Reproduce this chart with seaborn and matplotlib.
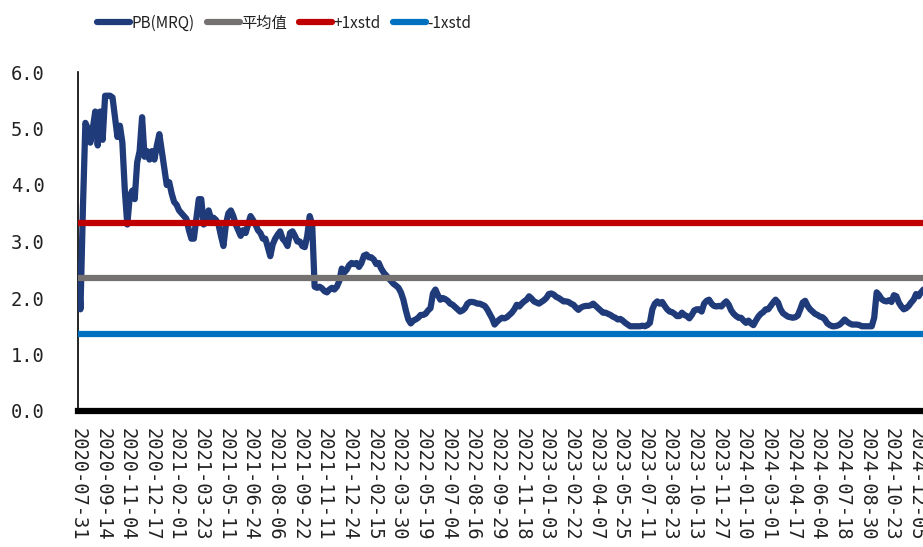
import numpy as np
import pandas as pd
import matplotlib
matplotlib.use("Agg")
import matplotlib.pyplot as plt
import seaborn as sns

# ---- data ----
pb_values = [
    2.6, 1.8, 3.6, 5.1, 5.0, 4.75, 5.0, 5.3, 4.7, 5.3,
    4.8, 5.58, 5.58, 5.58, 5.55, 5.2, 4.85, 5.05, 4.75, 3.9,
    3.3, 3.8, 3.9, 3.75, 4.4, 4.6, 5.2, 4.5, 4.6, 4.45,
    4.6, 4.45, 4.7, 4.9, 4.6, 4.3, 4.0, 4.05, 3.85, 3.7,
    3.65, 3.55, 3.5, 3.45, 3.4, 3.2, 3.05, 3.05, 3.4, 3.75,
    3.75, 3.3, 3.35, 3.55, 3.4, 3.42, 3.38, 3.3, 3.1, 2.92,
    3.3, 3.5, 3.55, 3.45, 3.3, 3.2, 3.1, 3.2, 3.15, 3.3,
    3.45, 3.38, 3.3, 3.2, 3.15, 3.05, 3.05, 2.9, 2.74, 2.95,
    3.05, 3.12, 3.18, 3.05, 3.0, 2.92, 3.15, 3.18, 3.1, 3.0,
    3.0, 2.92, 2.9, 3.1, 3.45, 3.3, 2.2, 2.18, 2.2, 2.17,
    2.12, 2.1, 2.15, 2.18, 2.15, 2.2, 2.3, 2.52, 2.45, 2.5,
    2.58, 2.62, 2.6, 2.62, 2.55, 2.62, 2.75, 2.77, 2.72, 2.72,
    2.68, 2.6, 2.62, 2.52, 2.45, 2.4, 2.35, 2.3, 2.25, 2.22,
    2.18, 2.1, 1.97, 1.78, 1.62, 1.55, 1.6, 1.62, 1.65, 1.7,
    1.7, 1.72, 1.78, 1.82, 2.08, 2.15, 2.05, 1.97, 2.0, 1.98,
    1.95, 1.9, 1.88, 1.84, 1.8, 1.76, 1.78, 1.82, 1.9, 1.93,
    1.93, 1.92, 1.9, 1.9, 1.88, 1.86, 1.8, 1.72, 1.64, 1.53,
    1.58, 1.62, 1.65, 1.64, 1.66, 1.7, 1.74, 1.8, 1.88, 1.85,
    1.9, 1.94, 1.97, 2.03, 1.99, 1.94, 1.92, 1.9, 1.93, 1.96,
    2.0, 2.07, 2.08, 2.06, 2.02, 2.0, 1.97, 1.94, 1.94, 1.93,
    1.9, 1.88, 1.83, 1.79, 1.83, 1.85, 1.86, 1.86, 1.87, 1.9,
    1.86, 1.82, 1.78, 1.74, 1.74, 1.72, 1.7, 1.67, 1.65, 1.62,
    1.63, 1.6, 1.56, 1.53, 1.5, 1.5, 1.5, 1.5, 1.5, 1.51,
    1.5, 1.52, 1.56, 1.8, 1.9, 1.94, 1.9, 1.93, 1.86, 1.8,
    1.76, 1.75, 1.72, 1.68, 1.68, 1.74, 1.7, 1.68, 1.64, 1.7,
    1.78, 1.8, 1.8, 1.76, 1.9, 1.95, 1.97, 1.9, 1.86, 1.85,
    1.86, 1.85, 1.9, 1.94, 1.88, 1.78, 1.72, 1.68, 1.65, 1.65,
    1.6, 1.56, 1.6, 1.55, 1.52, 1.6, 1.67, 1.72, 1.75, 1.8,
    1.8, 1.86, 1.92, 1.97, 1.92, 1.8, 1.73, 1.7, 1.67, 1.66,
    1.65, 1.66, 1.69, 1.8, 1.92, 1.95, 1.86, 1.8, 1.76, 1.72,
    1.7, 1.67, 1.66, 1.62, 1.55, 1.52, 1.5, 1.5, 1.51, 1.53,
    1.57, 1.62, 1.58, 1.55, 1.53, 1.53, 1.53, 1.52, 1.5, 1.5,
    1.5, 1.5, 1.5, 1.65, 2.1, 2.05, 1.98, 1.95, 1.94, 1.96,
    1.93, 2.05, 2.03, 1.92, 1.85, 1.8, 1.82, 1.86, 1.92, 1.97,
    2.07, 2.03, 2.1, 2.15,
]
mean_value = 2.35
plus_std = 3.33
minus_std = 1.36

tick_labels = [
    "2020-07-31", "2020-09-14", "2020-11-04", "2020-12-17",
    "2021-02-01", "2021-03-23", "2021-05-11", "2021-06-24", "2021-08-06",
    "2021-09-22", "2021-11-11", "2021-12-24",
    "2022-02-15", "2022-03-30", "2022-05-19", "2022-07-04", "2022-08-16",
    "2022-09-29", "2022-11-18",
    "2023-01-03", "2023-02-22", "2023-04-07", "2023-05-25", "2023-07-11",
    "2023-08-23", "2023-10-13", "2023-11-27",
    "2024-01-10", "2024-03-01", "2024-04-17", "2024-06-04", "2024-07-18",
    "2024-08-30", "2024-10-23", "2024-12-05",
]
samples_per_tick = 10
y_ticks = [0.0, 1.0, 2.0, 3.0, 4.0, 5.0, 6.0]

series_names = ["PB(MRQ)", "平均值", "+1xstd", "-1xstd"]
colors = ["#1F3B7A", "#767171", "#C00000", "#0070C0"]

# ---- plot ----
sns.set_style("white")
plt.rcParams["font.family"] = ["Noto Sans CJK SC", "DejaVu Sans"]

W, H = 923, 547
fig = plt.figure(figsize=(W / 100, H / 100), dpi=100)
left_px, right_px, top_px, bottom_px = 78, 923, 72, 411
ax = fig.add_axes([left_px / W, (H - bottom_px) / H,
                   (right_px - left_px) / W, (bottom_px - top_px) / H])

df = pd.DataFrame({"idx": np.arange(len(pb_values)), "pb": pb_values})
sns.lineplot(data=df, x="idx", y="pb", ax=ax, color=colors[0], lw=4.5,
             label=series_names[0], solid_joinstyle="round", zorder=3)
for val, name, c in zip([mean_value, plus_std, minus_std], series_names[1:], colors[1:]):
    ax.axhline(val, color=c, lw=4.5, label=name, zorder=4)

ax.set_xlim(0, (right_px - left_px) / 2.465)
ax.set_ylim(0, 6)
ax.set_xlabel("")
ax.set_ylabel("")

ax.set_xticks(np.arange(len(tick_labels)) * samples_per_tick)
ax.set_xticklabels(tick_labels, rotation=270, family="DejaVu Sans Mono",
                   fontsize=13.5, color="#222222")
ax.tick_params(axis="x", length=0, pad=12)
ax.set_yticks(y_ticks)
ax.set_yticklabels([f"{v:.1f}" for v in y_ticks], family="DejaVu Sans Mono",
                   fontsize=13.5, color="#222222")
ax.tick_params(axis="y", direction="in", length=4, width=1.2, color="black", pad=24)

for s in ["top", "right"]:
    ax.spines[s].set_visible(False)
ax.spines["left"].set_color("black")
ax.spines["left"].set_linewidth(1.2)
ax.spines["bottom"].set_color("black")
ax.spines["bottom"].set_linewidth(4.5)

handles, labels = ax.get_legend_handles_labels()
if ax.get_legend() is not None:
    ax.get_legend().remove()
leg = fig.legend(handles, labels, loc="center left", bbox_to_anchor=(97 / W, 1 - 23 / H),
                 ncol=4, frameon=False, fontsize=11, handlelength=2.15,
                 handletextpad=0.1, columnspacing=0.8, borderpad=0, borderaxespad=0)
for t in leg.get_texts():
    t.set_color("#222222")
for h in leg.get_lines():
    h.set_linewidth(4.5)
    h.set_solid_capstyle("round")

fig.savefig("out.png", dpi=100)
